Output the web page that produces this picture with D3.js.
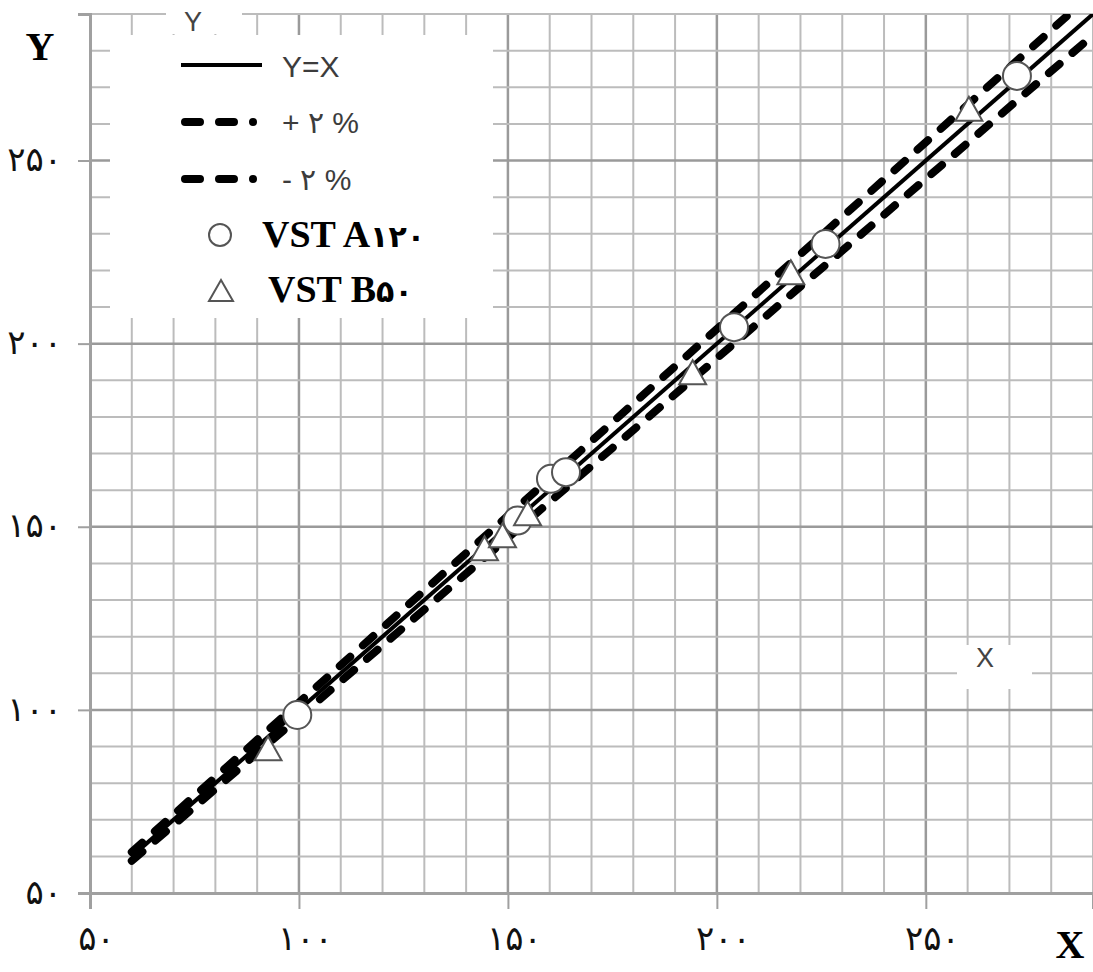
<!DOCTYPE html>
<html>
<head>
<meta charset="utf-8">
<script src="https://cdn.jsdelivr.net/npm/d3@7"></script>
<style>
  body { margin: 0; background: #fff; }
  svg { display: block; }
</style>
</head>
<body>
<div id="chart"></div>
<script>
// axis ticks and labels
const xTicks = [50, 100, 150, 200, 250];
const yTicks = [50, 100, 150, 200, 250];
const tickLabels = ["۵۰", "۱۰۰", "۱۵۰", "۲۰۰", "۲۵۰"];

// VST A120 (circles)
const seriesAx = [99.6, 152.3, 160.3, 163.9, 204.1, 226.0, 271.8];
const seriesAy = [98.6, 151.7, 163.1, 164.9, 204.5, 227.2, 273.1];
// VST B50 (triangles)
const seriesBx = [92.6, 144.4, 148.7, 154.7, 194.2, 217.7, 260.3];
const seriesBy = [89.5, 144.1, 147.7, 153.7, 192.2, 219.5, 264.1];

// reference lines y = x and +/- 2 %
const lineX = [60, 290];
const bands = [2, -2];

let width = 1093, height = 972;
let x = d3.scaleLinear().domain([50, 290]).range([90, 1093]);
let y = d3.scaleLinear().domain([50, 290]).range([893, 14]);

let svg = d3.select("#chart").append("svg")
    .attr("width", width)
    .attr("height", height);

svg.append("defs").append("clipPath").attr("id", "plot")
    .append("rect")
    .attr("x", x(50)).attr("y", y(290))
    .attr("width", x(290) - x(50)).attr("height", y(50) - y(290));

// grid
let grid = svg.append("g");
let gx = d3.range(60, 291, 10);
let gy = d3.range(60, 291, 10);
grid.selectAll(".vx").data(gx).join("line")
    .attr("x1", d => x(d)).attr("x2", d => x(d))
    .attr("y1", y(290)).attr("y2", y(50))
    .attr("stroke", d => d % 50 == 0 ? "#9a9a9a" : "#bcbcbc")
    .attr("stroke-width", d => d % 50 == 0 ? 2.5 : 2);
grid.selectAll(".hy").data(gy).join("line")
    .attr("x1", x(50)).attr("x2", x(290))
    .attr("y1", d => y(d)).attr("y2", d => y(d))
    .attr("stroke", d => d % 50 == 0 ? "#9a9a9a" : "#bcbcbc")
    .attr("stroke-width", d => d % 50 == 0 ? 2.5 : 2);

// axes
let xAxis = svg.append("g")
    .attr("transform", `translate(0,${y(50)})`)
    .call(d3.axisBottom(x).tickValues(xTicks).tickSize(16).tickFormat((d, i) => tickLabels[i]));
let yAxis = svg.append("g")
    .attr("transform", `translate(${x(50)},0)`)
    .call(d3.axisLeft(y).tickValues(yTicks).tickSize(12).tickFormat((d, i) => tickLabels[i]));

[xAxis, yAxis].forEach(a => {
    a.select(".domain").attr("stroke", "#a0a0a0").attr("stroke-width", 3);
    a.selectAll(".tick line").attr("stroke", "#a0a0a0").attr("stroke-width", 2);
    a.selectAll("text")
        .attr("fill", "#111")
        .style("font-family", "'Liberation Serif', 'DejaVu Sans', serif")
        .style("font-size", "34px");
});
xAxis.selectAll("text").attr("dx", 6).attr("dy", 38);
yAxis.selectAll("text").attr("x", -28).attr("dy", "0.3em");

// reference lines
let lines = svg.append("g").attr("clip-path", "url(#plot)");
lines.append("line")
    .attr("x1", x(lineX[0])).attr("y1", y(lineX[0]))
    .attr("x2", x(lineX[1])).attr("y2", y(lineX[1]))
    .attr("stroke", "#000").attr("stroke-width", 4);
lines.selectAll(".band").data(bands).join("line")
    .attr("x1", x(lineX[0])).attr("y1", d => y(lineX[0] * (1 + d / 100)))
    .attr("x2", x(lineX[1])).attr("y2", d => y(lineX[1] * (1 + d / 100)))
    .attr("stroke", "#000").attr("stroke-width", 8)
    .attr("stroke-linecap", "round")
    .attr("stroke-dasharray", "14,17");

// markers
let triPath = "M0,-12L13.5,12L-13.5,12Z";
let marks = svg.append("g");
marks.selectAll("circle").data(seriesAx).join("circle")
    .attr("cx", d => x(d))
    .attr("cy", (d, i) => y(seriesAy[i]))
    .attr("r", 14)
    .attr("fill", "#fff").attr("stroke", "#555").attr("stroke-width", 2);
marks.selectAll("path").data(seriesBx).join("path")
    .attr("d", triPath)
    .attr("transform", (d, i) => `translate(${x(d)},${y(seriesBy[i])})`)
    .attr("fill", "#fff").attr("stroke", "#555").attr("stroke-width", 2);

// white label boxes over the grid
svg.append("rect").attr("x", 110).attr("y", 35).attr("width", 383).attr("height", 283).attr("fill", "#fff");
svg.append("rect").attr("x", 166).attr("y", 0).attr("width", 76).attr("height", 34).attr("fill", "#fff");
svg.append("rect").attr("x", 957).attr("y", 645).attr("width", 75).attr("height", 44).attr("fill", "#fff");

let sans = "'Liberation Sans', Arial, sans-serif";
let serif = "'Liberation Serif', 'DejaVu Sans', serif";

svg.append("text").attr("x", 193).attr("y", 31).attr("text-anchor", "middle")
    .style("font-family", sans).style("font-size", "27px").attr("fill", "#444").text("Y");
svg.append("text").attr("x", 985).attr("y", 667).attr("text-anchor", "middle")
    .style("font-family", sans).style("font-size", "27px").attr("fill", "#444").text("X");

svg.append("text").attr("x", 40).attr("y", 60).attr("text-anchor", "middle")
    .style("font-family", serif).style("font-weight", "bold").style("font-size", "40px").text("Y");
svg.append("text").attr("x", 1070).attr("y", 958).attr("text-anchor", "middle")
    .style("font-family", serif).style("font-weight", "bold").style("font-size", "40px").text("X");

// legend
let legend = svg.append("g");
legend.append("line").attr("x1", 181).attr("x2", 262).attr("y1", 65).attr("y2", 65)
    .attr("stroke", "#000").attr("stroke-width", 4);
legend.selectAll(".lb").data([122, 179]).join("line")
    .attr("x1", 185).attr("x2", 265).attr("y1", d => d).attr("y2", d => d)
    .attr("stroke", "#000").attr("stroke-width", 8)
    .attr("stroke-linecap", "round")
    .attr("stroke-dasharray", "15,19,15,19,0.01,19");
let legendText = ["Y=X", "+ ۲ %", "- ۲ %"];
legend.selectAll(".lt").data(legendText).join("text")
    .attr("x", 282)
    .attr("y", (d, i) => [77, 133, 190][i])
    .style("font-family", sans).style("font-size", "30px").attr("fill", "#3c3c3c")
    .text(d => d);
legend.append("circle").attr("cx", 220).attr("cy", 235).attr("r", 11)
    .attr("fill", "#fff").attr("stroke", "#555").attr("stroke-width", 2);
legend.append("path").attr("d", "M0,-11L12,10L-12,10Z")
    .attr("transform", "translate(221,291)")
    .attr("fill", "#fff").attr("stroke", "#555").attr("stroke-width", 2);

let va = legend.append("text").attr("x", 262).attr("y", 247)
    .style("font-family", serif).style("font-weight", "bold").style("font-size", "38px");
va.append("tspan").text("VST A");
va.append("tspan").style("font-size", "30px").text("۱۲۰");
let vb = legend.append("text").attr("x", 268).attr("y", 302)
    .style("font-family", serif).style("font-weight", "bold").style("font-size", "38px");
vb.append("tspan").text("VST B");
vb.append("tspan").style("font-size", "30px").text("۵۰");
</script>
</body>
</html>
